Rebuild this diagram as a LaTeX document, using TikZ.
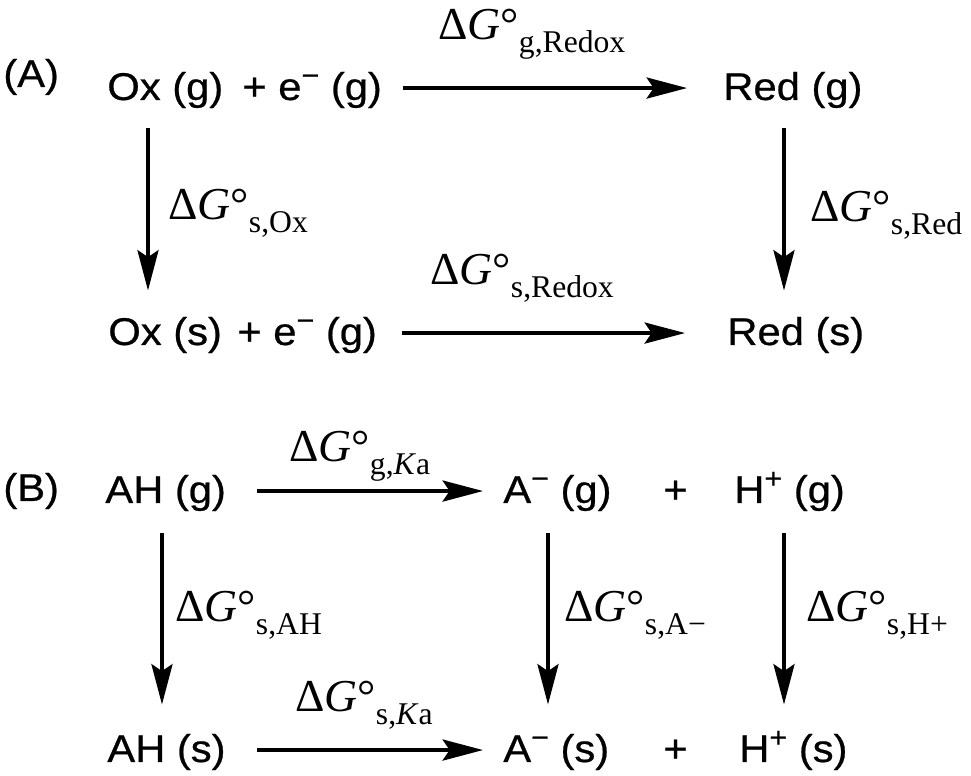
\documentclass[tikz,border=0pt]{standalone}
\usepackage{fontspec}
\setmainfont{Liberation Serif}
\newfontfamily\chemfont[FakeStretch=1.08, FakeBold=0.6]{Liberation Sans}
\usetikzlibrary{arrows.meta}

% charge raised after a species, free energy with degree and subscript
\newcommand{\chsup}[1]{\raisebox{8.5pt}{\fontsize{16}{16}\selectfont #1}}
\newcommand{\dGo}[1]{Δ\textit{G}°\raisebox{-7.4pt}{\fontsize{18}{20}\selectfont #1}}

\begin{document}
\begin{tikzpicture}[
  x=0.02cm, y=-0.02cm,
  spec/.style={anchor=base west, inner sep=0pt, text height=20pt, text depth=6.4pt, font=\chemfont\fontsize{22}{26}\selectfont},
  dg/.style={anchor=base west, inner sep=0pt, font=\fontsize{26}{30}\selectfont},
  arr/.style={-{Stealth[length=23pt, width=12pt, inset=4pt]}, line width=2pt}
]
  \useasboundingbox (0,0) rectangle (971,776);

  % (A) redox cycle
  \node[spec] (lblA) at (3,87) {(A)};
  \node[spec] (oxg) at (107,100) {Ox (g)};
  \node[spec] (eg1) at (242,100) {+ e\chsup{−} (g)};
  \node[spec] (redg) at (723,100) {Red (g)};
  \node[spec] (oxs) at (108,345) {Ox (s)};
  \node[spec] (eg2) at (237,345) {+ e\chsup{−} (g)};
  \node[spec] (reds) at (727,345) {Red (s)};

  \node[dg] (dggredox) at (438,40) {\dGo{g,Redox}};
  \node[dg] (dgsox) at (168,220) {\dGo{s,Ox}};
  \node[dg] (dgsred) at (810,222) {\dGo{s,Red}};
  \node[dg] (dgsredox) at (430,285) {\dGo{s,Redox}};

  \coordinate (vox) at ([xshift=0.82cm]oxg.south west);
  \coordinate (vred) at ([xshift=1.22cm]redg.south west);

  \draw[arr, shorten <=0.42cm, shorten >=0.72cm] (eg1) -- (redg);
  \draw[arr, shorten <=0.5cm, shorten >=0.84cm] (eg2) -- (reds);
  \draw[arr, shorten <=0.33cm, shorten >=0.38cm] (vox) -- (vox |- oxs.north);
  \draw[arr, shorten <=0.33cm, shorten >=0.38cm] (vred) -- (vred |- reds.north);

  % (B) acid dissociation cycle
  \node[spec] (lblB) at (3,501) {(B)};
  \node[spec] (ahg) at (105,503) {AH (g)};
  \node[spec] (amg) at (503,503) {A\chsup{−} (g)};
  \node[spec] (plg) at (663,503) {+};
  \node[spec] (hpg) at (734,503) {H\chsup{+} (g)};
  \node[spec] (ahs) at (107,762) {AH (s)};
  \node[spec] (ams) at (503,762) {A\chsup{−} (s)};
  \node[spec] (pls) at (663,762) {+};
  \node[spec] (hps) at (739,762) {H\chsup{+} (s)};

  \node[dg] (dggka) at (289,462) {\dGo{g,\textit{K}a}};
  \node[dg] (dgsah) at (175,622) {\dGo{s,AH}};
  \node[dg] (dgsam) at (564,622) {\dGo{s,A−}};
  \node[dg] (dgshp) at (806,622) {\dGo{s,H+}};
  \node[dg] (dgska) at (295,712) {\dGo{s,\textit{K}a}};

  \coordinate (vah) at ([xshift=1.14cm]ahg.south west);
  \coordinate (vam) at ([xshift=0.9cm]amg.south west);
  \coordinate (vhp) at ([xshift=1.0cm]hpg.south west);

  \draw[arr, shorten <=0.62cm, shorten >=0.4cm] (ahg) -- (amg);
  \draw[arr, shorten <=0.62cm, shorten >=0.4cm] (ahs) -- (ams);
  \draw[arr, shorten <=0.37cm, shorten >=0.44cm] (vah) -- (vah |- ahs.north);
  \draw[arr, shorten <=0.37cm, shorten >=0.44cm] (vam) -- (vam |- ams.north);
  \draw[arr, shorten <=0.37cm, shorten >=0.44cm] (vhp) -- (vhp |- hps.north);
\end{tikzpicture}
\end{document}
